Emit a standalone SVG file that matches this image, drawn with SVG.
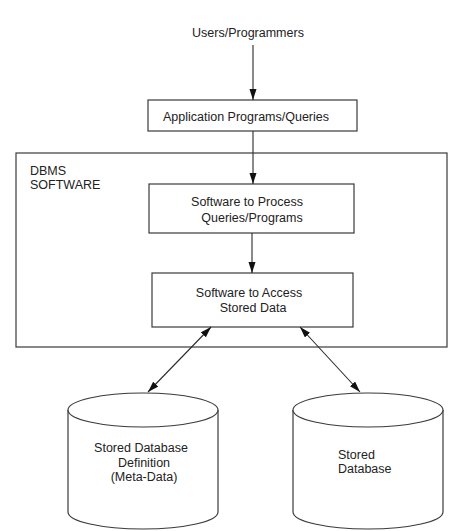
<svg xmlns="http://www.w3.org/2000/svg" width="469" height="531" viewBox="0 0 469 531">
<style>
  .box { fill: #ffffff; stroke: #3a3a3a; stroke-width: 1.2; }
  .cyl { fill: #ffffff; stroke: #3a3a3a; stroke-width: 1.2; }
  .t { font-family: "Liberation Sans", Arial, sans-serif; font-size: 12.5px; fill: #222; }
  .c { text-anchor: middle; }
  .conn { stroke: #2a2a2a; stroke-width: 1.1; fill: none; marker-end: url(#ah); }
  .dbl { marker-start: url(#ah); }
</style>
<defs>
  <marker id="ah" markerUnits="userSpaceOnUse" markerWidth="12" markerHeight="8" refX="11" refY="3.5" orient="auto-start-reverse">
    <path d="M0,0 L11,3.5 L0,7 Z" fill="#111"/>
  </marker>
</defs>
<rect width="469" height="531" fill="#ffffff"/>

<g id="users">
  <text class="t c" x="248" y="37">Users/Programmers</text>
</g>

<g id="app">
  <rect class="box" x="148" y="100" width="209" height="31"/>
  <text class="t c" x="246" y="121">Application Programs/Queries</text>
</g>

<g id="dbms">
  <rect class="box" x="16" y="153" width="431" height="194" fill="none"/>
  <text class="t" x="30" y="175">DBMS</text>
  <text class="t" x="30" y="189">SOFTWARE</text>
</g>

<g id="process">
  <rect class="box" x="149" y="184" width="205" height="49"/>
  <text class="t c" x="247" y="206">Software to Process</text>
  <text class="t c" x="252" y="222">Queries/Programs</text>
</g>

<g id="access">
  <rect class="box" x="152" y="273" width="201" height="54"/>
  <text class="t c" x="249" y="297">Software to Access</text>
  <text class="t c" x="253" y="312">Stored Data</text>
</g>

<g id="metadata">
  <path class="cyl" d="M68,410 L68,512 A75,17 0 0 0 218,512 L218,410"/>
  <ellipse class="cyl" cx="143" cy="410" rx="75" ry="17"/>
  <text class="t c" x="141" y="452">Stored Database</text>
  <text class="t c" x="144" y="467">Definition</text>
  <text class="t c" x="144" y="481">(Meta-Data)</text>
</g>

<g id="storeddb">
  <path class="cyl" d="M293,410 L293,512 A75,17 0 0 0 443,512 L443,410"/>
  <ellipse class="cyl" cx="368" cy="410" rx="75" ry="17"/>
  <text class="t" x="338" y="459">Stored</text>
  <text class="t" x="338" y="473">Database</text>
</g>

<g id="connectors">
  <line class="conn" x1="253" y1="45" x2="253" y2="100"/>
  <line class="conn" x1="253" y1="131" x2="253" y2="184"/>
  <line class="conn" x1="252" y1="233" x2="252" y2="273"/>
  <line class="conn dbl" x1="211" y1="327" x2="148" y2="392"/>
  <line class="conn dbl" x1="300" y1="327" x2="360" y2="392"/>
</g>
</svg>
